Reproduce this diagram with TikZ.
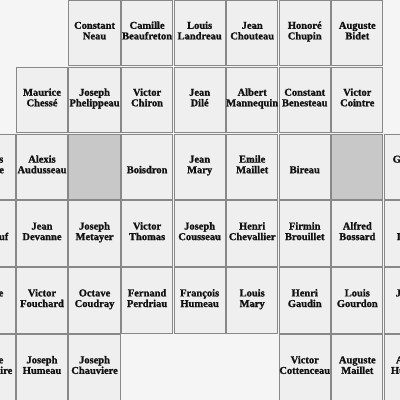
\documentclass[tikz,border=0pt]{standalone}
\usepackage{fontspec}
\setmainfont{Liberation Serif}[BoldFeatures={FakeBold=1.3}]
\definecolor{bgc}{HTML}{F5F5F5}
\definecolor{boxfill}{HTML}{EFEFEF}
\definecolor{boxline}{HTML}{888888}
\definecolor{emptyfill}{HTML}{C8C8C8}
\definecolor{txt}{HTML}{111111}
\tikzset{
  cellbox/.style={draw=boxline, line width=1pt, fill=boxfill, minimum width=51.2pt, minimum height=65.5pt, inner sep=0pt, outer sep=0pt},
  graybox/.style={cellbox, fill=emptyfill},
  nm/.style={anchor=base, inner sep=0pt, outer sep=0pt, font=\fontsize{10.5}{12}\selectfont\bfseries, text=txt},
  frl/.style={nm, anchor=base east},
  frr/.style={nm, anchor=base west}
}
\newcommand\pcellA[5]{%
  \node[cellbox] (#1) at ({42.0+52.55*#2},{33.0+66.9*#3}) {};
  \node[nm] (#1-a) at ({42.0+52.55*#2},{28.8+66.9*#3}) {#4};
  \node[nm] (#1-b) at ({42.0+52.55*#2},{39.4+66.9*#3}) {#5};
}
\newcommand\pcellB[4]{%
  \node[cellbox] (#1) at ({42.0+52.55*#2},{33.0+66.9*#3}) {};
  \node[nm] (#1-b) at ({42.0+52.55*#2},{39.4+66.9*#3}) {#4};
}
\newcommand\pcellG[3]{%
  \node[graybox] (#1) at ({42.0+52.55*#2},{33.0+66.9*#3}) {};
}
\newcommand\pcellE[3]{%
  \node[cellbox] (#1) at ({42.0+52.55*#2},{33.0+66.9*#3}) {};
}
\begin{document}
\begin{tikzpicture}[x=1pt,y=-1pt]
\useasboundingbox (0,0) rectangle (400,400);
\clip (0,0) rectangle (400,400);
\fill[bgc] (0,0) rectangle (400,400);
% row 0
\pcellA{r0c1}{1}{0}{Constant}{Neau}
\pcellA{r0c2}{2}{0}{Camille}{Beaufreton}
\pcellA{r0c3}{3}{0}{Louis}{Landreau}
\pcellA{r0c4}{4}{0}{Jean}{Chouteau}
\pcellA{r0c5}{5}{0}{Honoré}{Chupin}
\pcellA{r0c6}{6}{0}{Auguste}{Bidet}
% row 1
\pcellA{r1c0}{0}{1}{Maurice}{Chessé}
\pcellA{r1c1}{1}{1}{Joseph}{Phelippeau}
\pcellA{r1c2}{2}{1}{Victor}{Chiron}
\pcellA{r1c3}{3}{1}{Jean}{Dilé}
\pcellA{r1c4}{4}{1}{Albert}{Mannequin}
\pcellA{r1c5}{5}{1}{Constant}{Benesteau}
\pcellA{r1c6}{6}{1}{Victor}{Cointre}
% row 2
\pcellE{r2cm}{-1}{2}
\pcellA{r2c0}{0}{2}{Alexis}{Audusseau}
\pcellG{r2c1}{1}{2}
\pcellB{r2c2}{2}{2}{Boisdron}
\pcellA{r2c3}{3}{2}{Jean}{Mary}
\pcellA{r2c4}{4}{2}{Emile}{Maillet}
\pcellB{r2c5}{5}{2}{Bireau}
\pcellG{r2c6}{6}{2}
\pcellE{r2c7}{7}{2}
% row 3
\pcellE{r3cm}{-1}{3}
\pcellA{r3c0}{0}{3}{Jean}{Devanne}
\pcellA{r3c1}{1}{3}{Joseph}{Metayer}
\pcellA{r3c2}{2}{3}{Victor}{Thomas}
\pcellA{r3c3}{3}{3}{Joseph}{Cousseau}
\pcellA{r3c4}{4}{3}{Henri}{Chevallier}
\pcellA{r3c5}{5}{3}{Firmin}{Brouillet}
\pcellA{r3c6}{6}{3}{Alfred}{Bossard}
\pcellE{r3c7}{7}{3}
% row 4
\pcellE{r4cm}{-1}{4}
\pcellA{r4c0}{0}{4}{Victor}{Fouchard}
\pcellA{r4c1}{1}{4}{Octave}{Coudray}
\pcellA{r4c2}{2}{4}{Fernand}{Perdriau}
\pcellA{r4c3}{3}{4}{François}{Humeau}
\pcellA{r4c4}{4}{4}{Louis}{Mary}
\pcellA{r4c5}{5}{4}{Henri}{Gaudin}
\pcellA{r4c6}{6}{4}{Louis}{Gourdon}
\pcellE{r4c7}{7}{4}
% row 5
\pcellE{r5cm}{-1}{5}
\pcellA{r5c0}{0}{5}{Joseph}{Humeau}
\pcellA{r5c1}{1}{5}{Joseph}{Chauviere}
\pcellA{r5c5}{5}{5}{Victor}{Cottenceau}
\pcellA{r5c6}{6}{5}{Auguste}{Maillet}
\pcellE{r5c7}{7}{5}
% cut-off fragments at the picture edges
\node[frl] (f2la) at (3.3,162.6) {s};
\node[frl] (f2lb) at (4.0,173.2) {e};
\node[frl] (f3lb) at (8.3,240.1) {uf};
\node[frl] (f4la) at (3.3,296.4) {e};
\node[frl] (f5la) at (3.3,363.3) {e};
\node[frl] (f5lb) at (12.3,373.9) {ire};
\node[frr] (f2ra) at (392.7,162.6) {G};
\node[frr] (f3rb) at (396.7,240.1) {I};
\node[frr] (f4ra) at (395.7,296.4) {J};
\node[frr] (f5ra) at (396.0,363.3) {A};
\node[frr] (f5rb) at (391.0,373.9) {Hu};
\end{tikzpicture}
\end{document}
